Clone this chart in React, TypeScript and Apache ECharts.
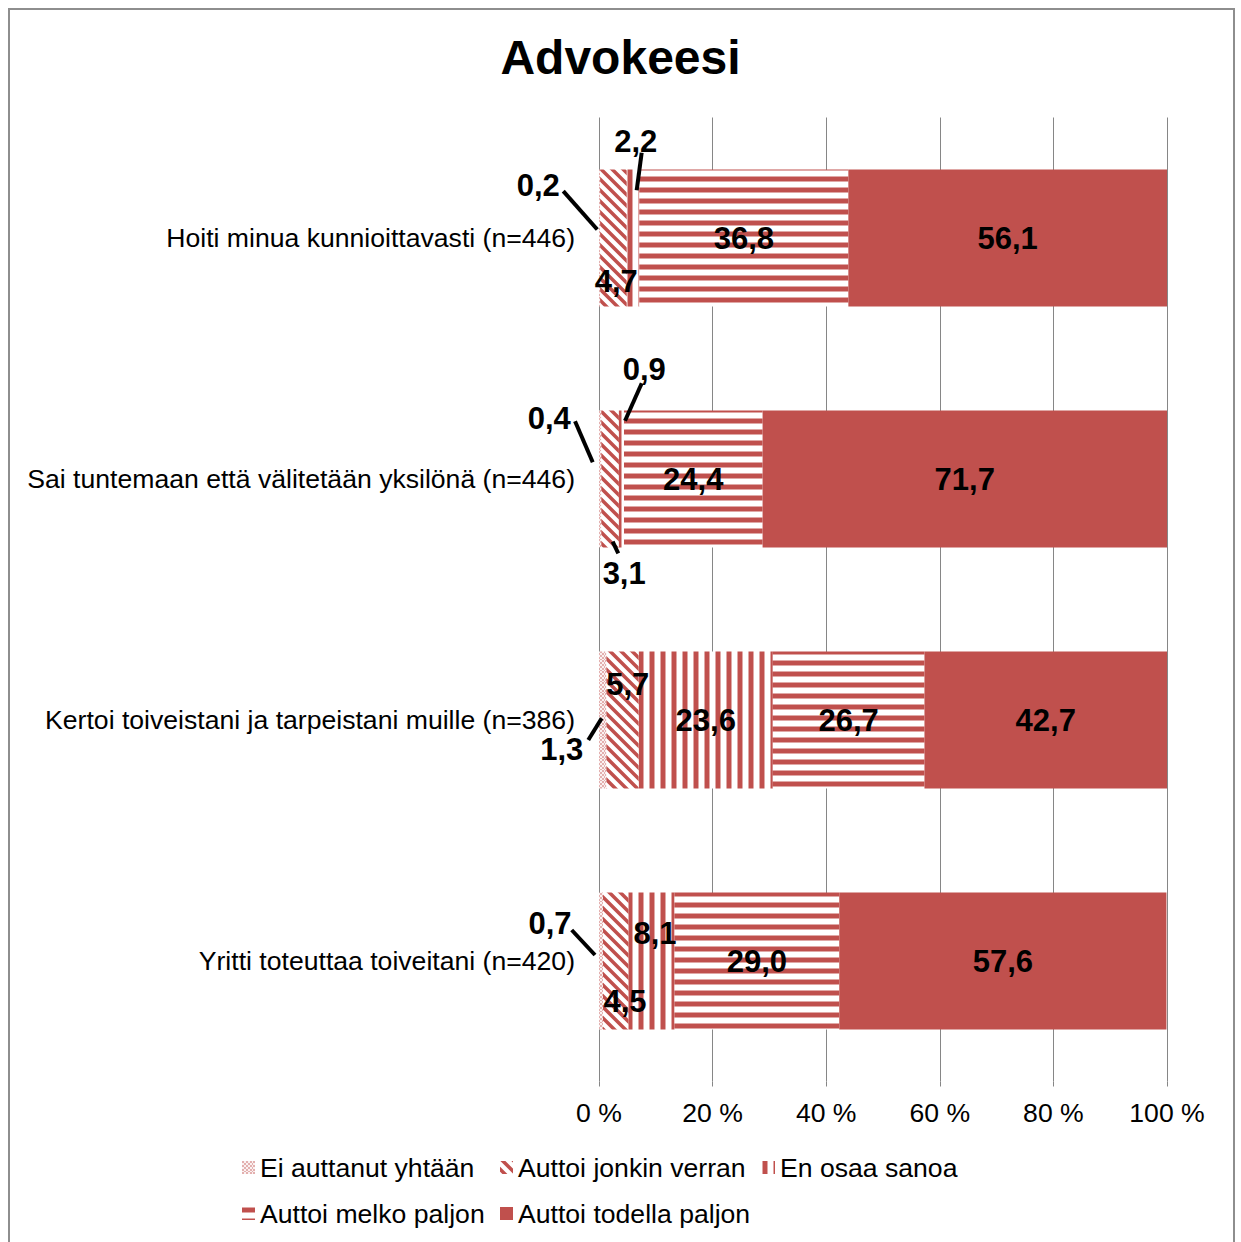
import React, { useEffect, useRef } from "react";
import * as echarts from "echarts";

// Survey answers per statement, in percent
const categories = [
  "Hoiti minua kunnioittavasti (n=446)",
  "Sai tuntemaan että välitetään yksilönä (n=446)",
  "Kertoi toiveistani ja tarpeistani muille (n=386)",
  "Yritti toteuttaa toiveitani (n=420)",
];
const seriesNames = [
  "Ei auttanut yhtään",
  "Auttoi jonkin verran",
  "En osaa sanoa",
  "Auttoi melko paljon",
  "Auttoi todella paljon",
];
const eiAuttanut = [0.2, 0.4, 1.3, 0.7];
const jonkinVerran = [4.7, 3.1, 5.7, 4.5];
const enOsaa = [2.2, 0.9, 23.6, 8.1];
const melkoPaljon = [36.8, 24.4, 26.7, 29.0];
const todellaPaljon = [56.1, 71.7, 42.7, 57.6];
const seriesValues = [eiAuttanut, jonkinVerran, enOsaa, melkoPaljon, todellaPaljon];
const titleText = "Advokeesi";

// Label nudges (px, relative to segment centre) and optional leader lines
const callouts = [
  { s: 0, r: 0, dx: -61.3, dy: -52.7, line: [-36.3, -46.8, -2.3, -8.5] },
  { s: 1, r: 0, dx: 2.7, dy: 43.5 },
  { s: 2, r: 0, dx: 2.7, dy: -96.8, line: [8.6, -85.2, 3.6, -47.8] },
  { s: 0, r: 1, dx: -50.9, dy: -60.3, line: [-25.1, -57.8, -7.4, -16.8] },
  { s: 1, r: 1, dx: 14.1, dy: 94.3, line: [2.6, 62.7, 8.2, 74.3] },
  { s: 2, r: 1, dx: 22.8, dy: -109.5, line: [20.3, -95.7, 3.6, -58.3] },
  { s: 0, r: 2, dx: -41, dy: 29.2, line: [-14.4, 20, -1, -1.7] },
  { s: 1, r: 2, dx: 5.2, dy: -35.8 },
  { s: 0, r: 3, dx: -51, dy: -37.7, line: [-29.3, -31, -6, -6] },
  { s: 1, r: 3, dx: 9.2, dy: 40.7 },
  { s: 2, r: 3, dx: 3.5, dy: -27.7 },
];

const legendSpots = [
  { left: 242, top: 1154 },
  { left: 500, top: 1154 },
  { left: 762, top: 1154 },
  { left: 242, top: 1200 },
  { left: 500, top: 1200 },
];

const RED = [192, 80, 77];
const FONT = "'Liberation Sans', Arial, Helvetica, sans-serif";
const TEXT_SIZE = 26.6;

type Kind = "checker" | "diag" | "vert" | "horiz" | "solid";

function makeTile(kind: Kind) {
  const n = 11;
  const c = document.createElement("canvas");
  c.width = n;
  c.height = n;
  const ctx = c.getContext("2d")!;
  const img = ctx.createImageData(n, n);
  const ss = 4;
  for (let y = 0; y < n; y++) {
    for (let x = 0; x < n; x++) {
      let cov = 0;
      if (kind === "checker") {
        const cx = Math.floor(x / 2), cy = Math.floor(y / 2);
        cov = (cx + cy) % 2 === 0 ? 0.45 : 0.08;
      } else {
        let hits = 0;
        for (let j = 0; j < ss; j++) {
          for (let i = 0; i < ss; i++) {
            const sx = x + (i + 0.5) / ss;
            const sy = y + (j + 0.5) / ss;
            let t = 0;
            if (kind === "horiz") t = sy;
            else if (kind === "vert") t = sx;
            else t = sx - sy;
            const m = ((t % n) + n) % n;
            if (m >= 0.5 && m < 5.5) hits++;
          }
        }
        cov = hits / (ss * ss);
      }
      const k = (y * n + x) * 4;
      img.data[k] = Math.round(255 + (RED[0] - 255) * cov);
      img.data[k + 1] = Math.round(255 + (RED[1] - 255) * cov);
      img.data[k + 2] = Math.round(255 + (RED[2] - 255) * cov);
      img.data[k + 3] = 255;
    }
  }
  ctx.putImageData(img, 0, 0);
  return { image: c.toDataURL(), repeat: "repeat", imageWidth: n, imageHeight: n };
}

const fmt = (v: number) => v.toFixed(1).replace(".", ",");

export default function App() {
  const ref = useRef<HTMLDivElement>(null);

  useEffect(() => {
    if (!ref.current) return;
    const chart = echarts.init(ref.current, undefined, { renderer: "svg" });
    const kinds: Kind[] = ["checker", "diag", "vert", "horiz", "solid"];
    const fills = kinds.map((k) => (k === "solid" ? "#C0504D" : makeTile(k)));

    const series = seriesValues.map((vals, s) => ({
      name: seriesNames[s],
      type: "bar",
      stack: "total",
      barWidth: 137,
      itemStyle: { color: fills[s] as any },
      label: {
        show: true,
        position: "inside",
        color: "#000",
        fontFamily: FONT,
        fontSize: 31,
        fontWeight: "bold",
        formatter: (p: any) => fmt(p.value),
      },
      data: vals.map((v, r) => {
        const c = callouts.find((o) => o.s === s && o.r === r);
        return c ? { value: v, label: { offset: [c.dx, c.dy] } } : v;
      }),
    }));

    chart.setOption({
      animation: false,
      backgroundColor: "#fff",
      title: {
        text: titleText,
        left: "center",
        top: 28,
        textStyle: { fontFamily: FONT, fontSize: 48, fontWeight: "bold", color: "#000" },
      },
      legend: seriesNames.map((name, i) => ({
        data: [name],
        left: legendSpots[i].left,
        top: legendSpots[i].top,
        padding: 0,
        itemGap: 0,
        itemWidth: 13,
        itemHeight: 13,
        icon: "rect",
        selectedMode: false,
        textStyle: { fontFamily: FONT, fontSize: TEXT_SIZE, color: "#000" },
      })),
      grid: { left: 599, right: 74, top: 117.5, bottom: 160.5, containLabel: false },
      xAxis: {
        type: "value",
        min: 0,
        max: 100,
        interval: 20,
        axisLine: { show: false },
        axisTick: { show: true, length: 5, lineStyle: { color: "#868686" } },
        splitLine: { show: true, lineStyle: { color: "#868686", width: 1 } },
        axisLabel: {
          formatter: "{value} %",
          fontFamily: FONT,
          fontSize: TEXT_SIZE,
          color: "#000",
          margin: 18,
        },
      },
      yAxis: {
        type: "category",
        inverse: true,
        data: categories,
        axisLine: { show: false },
        axisTick: { show: false },
        axisLabel: { fontFamily: FONT, fontSize: TEXT_SIZE, color: "#000", margin: 24 },
      },
      series,
    });

    // Leader lines from nudged labels to their bar segments
    const lines: any[] = [];
    callouts.forEach((c) => {
      if (!c.line) return;
      let start = 0;
      for (let k = 0; k < c.s; k++) start += seriesValues[k][c.r];
      const mid = start + seriesValues[c.s][c.r] / 2;
      const [px, py] = chart.convertToPixel({ gridIndex: 0 }, [mid, c.r]) as number[];
      lines.push({
        type: "line",
        z: 100,
        shape: { x1: px + c.line[0], y1: py + c.line[1], x2: px + c.line[2], y2: py + c.line[3] },
        style: { stroke: "#000", lineWidth: 4 },
      });
    });

    chart.setOption({
      graphic: [
        {
          type: "rect",
          z: 100,
          shape: { x: 9, y: 9, width: 1225, height: 1260 },
          style: { fill: "none", stroke: "#8e8e8e", lineWidth: 2 },
        },
        ...lines,
      ],
    });

    return () => chart.dispose();
  }, []);

  return (
    <div
      ref={ref}
      style={{ position: "absolute", left: 0, top: 0, width: 1241, height: 1242 }}
    />
  );
}
